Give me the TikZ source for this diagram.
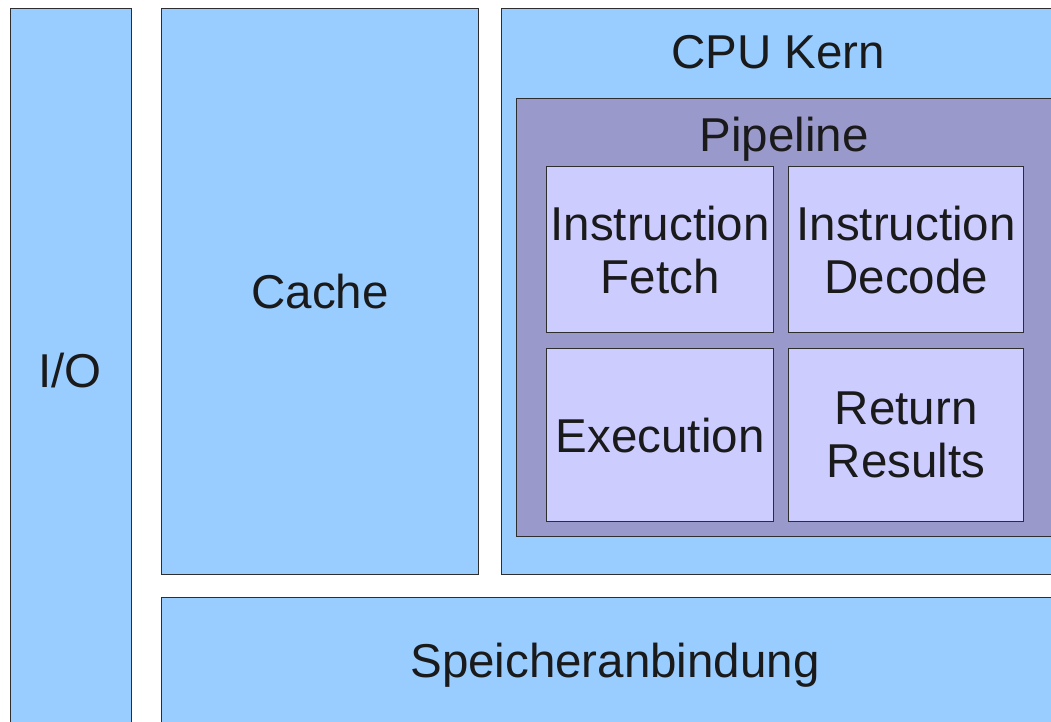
\documentclass[tikz,border=0pt]{standalone}
\usepackage{fontspec}
\setmainfont{Liberation Sans}
\definecolor{outerblue}{HTML}{99CCFF}
\definecolor{pipeviolet}{HTML}{9999CC}
\definecolor{stagelilac}{HTML}{CCCCFF}
\definecolor{edgegray}{HTML}{2E2E2E}
\definecolor{inktext}{HTML}{1A1A1A}
\begin{document}
\begin{tikzpicture}[x=1pt,y=-1pt,
  box/.style={draw=edgegray, line width=1.3pt, anchor=north west, inner sep=0pt,
    text=inktext, font=\fontsize{47.5}{53}\selectfont, align=center},
  block/.style={box, fill=outerblue},
  pipebox/.style={box, fill=pipeviolet},
  stagebox/.style={box, fill=stagelilac},
  title/.style={anchor=base, inner sep=0pt, text=inktext, font=\fontsize{47.5}{53}\selectfont}]
\useasboundingbox (0,0) rectangle (1051,722);
\clip (0,0) rectangle (1051,722);
\fill[white] (0,0) rectangle (1051,722);

% outer blocks
\node[block, minimum width=121pt, minimum height=724pt] (io) at (10,8) {};
\node[title] (iolabel) at (70,387) {I/O};
\node[block, minimum width=317pt, minimum height=566pt] (cache) at (161,8) {Cache};
\node[block, minimum width=570pt, minimum height=566pt] (cpu) at (501,8) {};
\node[title] (cpulabel) at (778,69) {CPU Kern};
\node[block, minimum width=900pt, minimum height=140pt] (mem) at (161,597) {};
\node[title] (memlabel) at (615,677) {Speicheranbindung};

% pipeline
\node[pipebox, minimum width=555pt, minimum height=438pt] (pipe) at (516,98) {};
\node[title] (pipelabel) at (784,152) {Pipeline};

% stages
\node[stagebox, minimum width=227pt, minimum height=166pt] (fetch) at (546,166) {Instruction\\Fetch};
\node[stagebox, minimum width=235pt, minimum height=166pt] (decode) at (788,166) {Instruction\\Decode};
\node[stagebox, minimum width=227pt, minimum height=173pt] (exec) at (546,348) {Execution};
\node[stagebox, minimum width=235pt, minimum height=173pt] (ret) at (788,348) {Return\\Results};
\end{tikzpicture}
\end{document}
